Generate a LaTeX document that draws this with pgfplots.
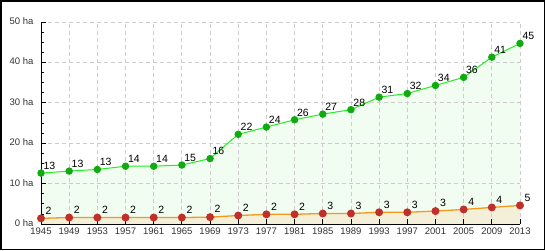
\documentclass[border=0pt]{standalone}
\usepackage{fontspec}
\setmainfont{Liberation Sans}
\usepackage{pgfplots}
\usepackage{pgfplotstable}
\pgfplotsset{compat=1.18}
\definecolor{linegreen}{HTML}{22EE22}
\definecolor{markgreen}{HTML}{11AA11}
\definecolor{fillgreen}{HTML}{F0FDF0}
\definecolor{lineorange}{HTML}{F39A1C}
\definecolor{markred}{HTML}{C0302A}
\definecolor{fillbeige}{HTML}{F3EFD9}
\definecolor{gridgray}{HTML}{CCCCCC}
\definecolor{ticktext}{HTML}{333333}
\pgfplotstableread{
x y l
1945 12.6 13
1949 13.1 13
1953 13.5 13
1957 14.3 14
1961 14.3 14
1965 14.6 15
1969 16.2 16
1973 22.2 22
1977 24.0 24
1981 25.8 26
1985 27.2 27
1989 28.3 28
1993 31.4 31
1997 32.3 32
2001 34.3 34
2005 36.3 36
2009 41.3 41
2013 44.7 45
}\greendata
\pgfplotstableread{
x y l
1945 1.4 2
1949 1.6 2
1953 1.6 2
1957 1.6 2
1961 1.6 2
1965 1.6 2
1969 1.7 2
1973 2.1 2
1977 2.4 2
1981 2.4 2
1985 2.6 3
1989 2.6 3
1993 2.9 3
1997 2.9 3
2001 3.2 3
2005 3.6 4
2009 4.1 4
2013 4.6 5
}\reddata
\pgfplotsset{myframe/.style={
  at={(41pt,26pt)}, anchor=south west,
  scale only axis, width=479pt, height=202pt,
  xmin=1945, xmax=2013, ymin=0, ymax=50}}
\begin{document}
\begin{tikzpicture}
\useasboundingbox (0,0) rectangle (545pt,250pt);
\begin{axis}[myframe, hide axis]
\addplot[fill=fillgreen, draw=none] table[x=x,y=y] {\greendata} \closedcycle;
\addplot[fill=fillbeige, draw=none] table[x=x,y=y] {\reddata} \closedcycle;
\end{axis}
\begin{axis}[
  myframe,
  axis lines=left, axis line style={-, black, line width=1pt},
  xtick={1945,1949,...,2013},
  ytick={0,10,...,50},
  minor y tick num=3,
  tick align=inside,
  major tick length=5pt, minor tick length=3pt,
  tick style={black, line width=0.8pt},
  grid=major,
  major grid style={gridgray, line width=0.8pt, dash pattern=on 4pt off 3pt},
  /pgf/number format/assume math mode=true,
  /pgf/number format/1000 sep={},
  scaled ticks=false,
  tick label style={font=\fontsize{9.5}{10}\selectfont, text=ticktext},
  yticklabel={\pgfmathprintnumber{\tick} ha},
  yticklabel style={xshift=-4pt, yshift=1pt},
  xticklabel style={yshift=-0.5pt},
  clip=false,
]
\addplot[lineorange, line width=1.3pt, mark=*, mark size=3.3pt,
  mark options={fill=markred, draw=markred},
  point meta=explicit symbolic,
  nodes near coords,
  every node near coord/.style={anchor=south west, inner sep=0pt, xshift=4pt, yshift=3.5pt, font=\fontsize{10.5}{12}\selectfont, text=black}
] table[x=x,y=y,meta=l] {\reddata};
\addplot[linegreen, line width=1pt, mark=*, mark size=3.2pt,
  mark options={fill=markgreen, draw=markgreen},
  point meta=explicit symbolic,
  nodes near coords,
  every node near coord/.style={anchor=south west, inner sep=0pt, xshift=2pt, yshift=3pt, font=\fontsize{10.5}{12}\selectfont, text=black}
] table[x=x,y=y,meta=l] {\greendata};
\end{axis}
\draw[line width=1.5pt] (0.75pt,0.75pt) rectangle (544.25pt,249.25pt);
\end{tikzpicture}
\end{document}
